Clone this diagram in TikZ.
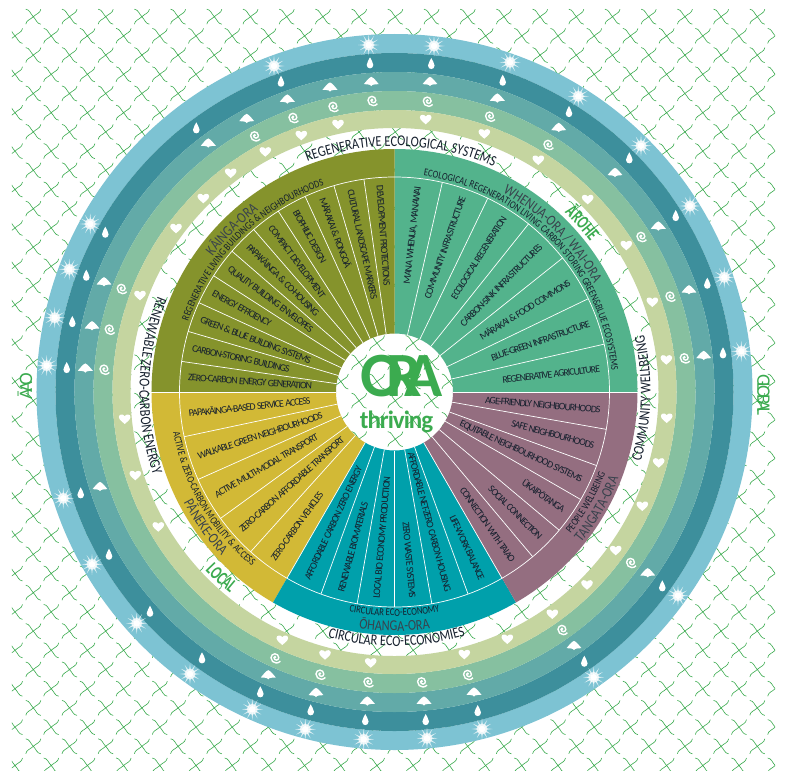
\documentclass[tikz,border=0pt]{standalone}
\usepackage{fontspec}
\usetikzlibrary{decorations.text}
\setmainfont{Carlito}
\newfontfamily\wheelfont[LetterSpace=-10]{Carlito}
\newfontfamily\arcfont[FakeStretch=0.82]{Carlito}
\newfontfamily\greenfont[LetterSpace=-21]{Carlito}
\newfontfamily\greenarcfont[FakeStretch=0.68]{Carlito Bold}
\newfontfamily\orafont[LetterSpace=-27]{Carlito Bold}
\newfontfamily\thrivefont[LetterSpace=-4]{Carlito Bold}

\definecolor{ringa}{HTML}{7DC3D3}
\definecolor{ringb}{HTML}{3D8F9C}
\definecolor{ringc}{HTML}{62AAA8}
\definecolor{ringd}{HTML}{86C0A0}
\definecolor{ringe}{HTML}{C5D5A0}
\definecolor{whenuacol}{HTML}{53B38C}
\definecolor{tangatacol}{HTML}{946E80}
\definecolor{ohangacol}{HTML}{00A0AB}
\definecolor{panekecol}{HTML}{D2B936}
\definecolor{kaingacol}{HTML}{85932C}
\definecolor{inkdark}{HTML}{16202E}
\definecolor{oragreen}{HTML}{3BAB4F}

\newcommand{\smalltxt}{\wheelfont\fontsize{10}{10}\selectfont\color{inkdark}}
\newcommand{\smallarc}{\arcfont\fontsize{10.5}{10.5}\selectfont\color{inkdark}}
\newcommand{\ringtxt}{\arcfont\fontsize{15}{15}\selectfont\color{inkdark}}
\newcommand{\oratxt}{\arcfont\fontsize{15}{15}\selectfont\color{inkdark!85}}
\newcommand{\placetxt}{\greenfont\fontsize{19}{19}\selectfont\color{oragreen}}
\newcommand{\placearc}{\greenarcfont\fontsize{19}{19}\selectfont\color{oragreen}}
% text on an arc: font, radius, start angle, end angle, text
\newcommand{\arclabel}[5]{\path[decorate,decoration={text along path,text align=center,
  text={|#1|#5}}] (#3:#2) arc[start angle=#3,end angle=#4,radius=#2];}

\tikzset{
  crossline/.style={draw=oragreen,line width=0.6pt},
  spoke/.style={draw=white,line width=0.7pt},
  radright/.style={font=\smalltxt,inner sep=0pt,anchor=east,text height=6.5pt,text depth=0pt},
  radleft/.style={font=\smalltxt,inner sep=0pt,anchor=west,text height=6.5pt,text depth=0pt},
  sunicon/.pic={
    \fill[white,opacity=0.75] \foreach \a in {0,30,...,330} {(\a:10.5) -- (\a+14:3.5) -- (\a-14:3.5) -- cycle};
    \fill[white,opacity=0.7] (0,0) circle (5.5);
    \fill[white] (0,0) circle (3.4);
  },
  dropicon/.pic={
    \fill[white] (0,6) .. controls (0.6,3.5) and (3.3,1.6) .. (3.3,-1.6)
      .. controls (3.3,-6.2) and (-3.3,-6.2) .. (-3.3,-1.6)
      .. controls (-3.3,1.6) and (-0.6,3.5) .. (0,6) -- cycle;
  },
  shellicon/.pic={
    \fill[white,scale=0.88] (0,5.5) .. controls (3,4.5) and (6,0) .. (8.5,-2.8) -- (4.5,-3) -- (1.4,-3.6)
      -- (0,-5) -- (-1.4,-3.6) -- (-4.5,-3) -- (-8.5,-2.8) .. controls (-6,0) and (-3,4.5) .. (0,5.5) -- cycle;
  },
  koruicon/.pic={
    \draw[white,line width=1.4pt] (0.3,0) arc[start angle=0,end angle=180,radius=1]
      arc[start angle=180,end angle=360,radius=2.4]
      arc[start angle=0,end angle=180,radius=3.9]
      arc[start angle=180,end angle=320,radius=5.3];
  },
  hearticon/.pic={
    \fill[white] (0,-5) .. controls (-2,-3) and (-5.8,-0.8) .. (-5.8,2) .. controls (-5.8,5) and (-1.5,5.4) .. (0,2.8)
      .. controls (1.5,5.4) and (5.8,5) .. (5.8,2) .. controls (5.8,-0.8) and (2,-3) .. (0,-5) -- cycle;
  },
}

\begin{document}
\begin{tikzpicture}[x=1pt,y=1pt]
\useasboundingbox (-394.5,-380) rectangle (399.5,392);
\fill[white] (-394.5,-380) rectangle (399.5,392);

% lattice behind the wheel
\begin{scope}
\clip (-382.5,-378) rectangle (380.5,383);
\foreach \row in {0,...,39}
  \foreach \col in {0,...,21} {
    \pgfmathsetmacro{\px}{(isodd(\row) ? 15 : 33.3)+36.2*\col-394.5}
    \pgfmathsetmacro{\py}{392-16.7-19.2*\row}
    \draw[crossline,shift={(\px,\py)}]
      (-7.5,-7.5) .. controls (-7,-3.5) and (-3,-3) .. (0,0) .. controls (3,3) and (7,3.5) .. (7.5,7.5)
      (-7.5,7.5) .. controls (-3.5,7) and (-3,3) .. (0,0) .. controls (3,-3) and (3.5,-7) .. (7.5,-7.5);
  }
\end{scope}

% rings
\foreach \col/\ro/\ri in {ringa/358/339,ringb/339/320,ringc/320/301,ringd/301/282,ringe/282/264}
  \fill[\col,even odd rule] (0,0) circle (\ro) circle (\ri);

% icons on the rings, at picture positions
\foreach \px/\py in {368.7/45,274/66,90.3/224,69.3/269.3,54.7/317.7,46.7/365.7,63.3/498.3,92/564.3,136.7/623.3,190/674,252.3/709.3,305.3/729.3,363.7/739.3,678/595.7,593.7/677.3,482/729,427/738.3,434/46,510/62.3,578.3/96.3,641/145.7,690/206,724.3/277.3,741.3/351.3}
  \pic at ({\px-394.5},{392-\py}) {sunicon};
\foreach \px/\py in {370/63.3,281/81.7,196.3/128.3,105.3/232.7,86.3/275.7,72.3/322,66.7/368,80.7/493.3,109/554.7,150/611.7,202/658.3,260.3/692.3,310.7/710.3,365.3/720,662.3/586.3,584.3/661.7,477.7/711,425.7/720,431.3/64,502.7/80.7,569/112,629.3/158.3,675.7/216,707.3/283.7,723/353.3}
  \pic at ({\px-394.5},{392-\py}) {dropicon};
\foreach \px/\py in {371.3/81.7,330/87.3,287.3/99.3,246.7/118.7,208.3/143.3,104/282,92/326,85.3/368.3,100/486.7,268.3/675,316/692.7,367.3/701.3,647.7/573,574/645.7,474/692.3,424/701.3,430/81.7,497.3/98.3,558.7/127.7,615/172.7,658.3/226.3,689/290,703.7/355.7}
  \pic at ({\px-394.5},{392-\py}) {shellicon};
\foreach \px/\py in {372.7/100.3,333.7/106.3,293.7/117.3,255.3/135.7,122/288.3,110/329,104.7/369,275.7/657.7,320.7/674,368.7/681.7,631.3/562.3,562.7/629.3,468.3/674.3,422.3/681.7,428/101,490.3/116,548.7/144.3,641.7/236.3,670.7/296,685/357.7}
  \pic at ({\px-394.5},{392-\py}) {koruicon};
\foreach \px/\py in {338/124.3,301.3/135.3,265.3/151.7,230.7/173,203.3/198.3,176/228.3,140/295.3,124.7/419,135.3/475.3,158.3/526.7,282.3/640,325/654.7,370.7/662.7,666.7/418,658.7/462.7,642.3/506,615.7/550.3,587/584.7,552.3/614,507.3/639,464.3/654.3,425.7/119.3,484.3/133.7,538.3/160,587.7/199.3,626.3/245.3,652.3/302,666.3/359.7}
  \pic at ({\px-394.5},{392-\py}) {hearticon};

% sectors
\foreach \col/\aa/\bb in {whenuacol/0/90,kaingacol/90/180,panekecol/180/240,ohangacol/240/300,tangatacol/300/360}
  \fill[\col] (\aa:243) arc[start angle=\aa,end angle=\bb,radius=243] -- (\bb:58.5)
    arc[start angle=\bb,end angle=\aa,radius=58.5] -- cycle;

\draw[spoke] (0,0) circle (215);
\draw[spoke] (0:58.5) -- (0:243);
\draw[spoke] (180:58.5) -- (180:243);
\draw[spoke] (240:58.5) -- (240:215);
\draw[spoke] (300:58.5) -- (300:215);
\foreach \i in {1,...,6} \draw[spoke] ({90-\i*90/7}:58.5) -- ({90-\i*90/7}:215);
\foreach \i in {1,...,10} \draw[spoke] ({90+\i*90/11}:58.5) -- ({90+\i*90/11}:215);
\foreach \i in {1,...,4} \draw[spoke] ({180+\i*12}:58.5) -- ({180+\i*12}:215);
\foreach \i in {1,...,5} \draw[spoke] ({240+\i*10}:58.5) -- ({240+\i*10}:215);
\foreach \i in {1,...,5} \draw[spoke] ({300+\i*10}:58.5) -- ({300+\i*10}:215);

% labels in the cells
\foreach \i/\lbl in {1/{MANA WHENUA, MANAWAI},2/COMMUNITY INFRASTRUCTURE,3/ECOLOGICAL REGENERATION,
    4/CARBON-SINK INFRASTRUCTURES,5/MĀRAKAI {\&} FOOD COMMONS,6/BLUE-GREEN INFRASTRUCTURE,7/REGENERATIVE AGRICULTURE} {
  \pgfmathsetmacro{\ang}{90-(\i-0.5)*90/7}
  \node[radright,rotate=\ang] (whenua\i) at (\ang:207) {\lbl};
}
\foreach \i/\lbl in {1/DEVELOPMENT PROTECTIONS,2/CULTURAL LANDSCAPE MARKERS,3/MĀRAKAI {\&} RONGOĀ,4/BIOPHILIC DESIGN,
    5/COMPACT DEVELOPMENT,6/PAPAKĀINGA {\&} CO-HOUSING,7/QUALITY BUILDING ENVELOPES,8/ENERGY EFFICIENCY,
    9/GREEN {\&} BLUE BUILDING SYSTEMS,10/CARBON-STORING BUILDINGS,11/ZERO-CARBON ENERGY GENERATION} {
  \pgfmathsetmacro{\ang}{90+(\i-0.5)*90/11}
  \node[radleft,rotate=\ang+180] (kainga\i) at (\ang:207) {\lbl};
}
\foreach \i/\lbl in {1/PAPAKĀINGA-BASED SERVICE ACCESS,2/WALKABLE GREEN NEIGHBOURHOODS,3/ACTIVE MULTI-MODAL TRANSPORT,
    4/ZERO-CARBON AFFORDABLE TRANSPORT,5/ZERO-CARBON VEHICLES} {
  \pgfmathsetmacro{\ang}{180+(\i-0.5)*12}
  \node[radleft,rotate=\ang+180] (paneke\i) at (\ang:207) {\lbl};
}
\foreach \i/\lbl in {1/AFFORDABLE CARBON ZERO ENERGY,2/RENEWABLE BIOMATERIALS,3/LOCAL BIO ECONOMY PRODUCTION} {
  \pgfmathsetmacro{\ang}{240+(\i-0.5)*10}
  \node[radleft,rotate=\ang+180] (ohanga\i) at (\ang:207) {\lbl};
}
\foreach \i/\lbl in {4/ZERO WASTE SYSTEMS,5/AFFORDABLE NET-ZERO CARBON HOUSING,6/LIFE-WORK BALANCE} {
  \pgfmathsetmacro{\ang}{240+(\i-0.5)*10}
  \node[radright,rotate=\ang] (ohanga\i) at (\ang:207) {\lbl};
}
\foreach \i/\lbl in {1/CONNECTION WITH TAIAO,2/SOCIAL CONNECTION,3/ŪKAIPŌTANGA,4/EQUITABLE NEIGHBOURHOOD SYSTEMS,
    5/SAFE NEIGHBOURHOODS,6/AGE-FRIENDLY NEIGHBOURHOODS} {
  \pgfmathsetmacro{\ang}{300+(\i-0.5)*10}
  \node[radright,rotate=\ang] (tangata\i) at (\ang:207) {\lbl};
}

% labels on the arcs
\arclabel{\ringtxt}{246}{128}{49}{REGENERATIVE ECOLOGICAL SYSTEMS}
\arclabel{\ringtxt}{256}{-40}{37}{COMMUNITY WELLBEING}
\arclabel{\ringtxt}{254}{-130}{-49}{CIRCULAR ECO-ECONOMIES}
\arclabel{\ringtxt}{255}{135}{222}{RENEWABLE ZERO-CARBON ENERGY}
\arclabel{\smallarc}{218}{90}{-2}{ECOLOGICAL REGENERATION LIVING CARBON STORING GREEN{\&}BLUE ECOSYSTEMS}
\arclabel{\oratxt}{227}{80}{10}{WHENUA-ORA / WAI-ORA}
\arclabel{\smallarc}{218}{175}{95}{REGENERATIVE LIVING BUILDINGS {\&} NEIGHBOURHOODS}
\arclabel{\oratxt}{227}{165}{105}{KĀINGA-ORA}
\arclabel{\smallarc}{225}{180}{241}{ACTIVE {\&} ZERO-CARBON MOBILITY {\&} ACCESS}
\arclabel{\oratxt}{238}{186}{245}{PĀNEKE-ORA}
\arclabel{\smallarc}{224}{-120}{-60}{CIRCULAR ECO-ECONOMY}
\arclabel{\oratxt}{239}{-120}{-60}{ŌHANGA-ORA}
\arclabel{\smallarc}{226}{-55}{-5}{PEOPLE WELLBEING}
\arclabel{\oratxt}{240}{-55}{-5}{TANGATA-ORA}
\arclabel{\placearc}{247}{65}{19}{ĀROHE}
\arclabel{\placearc}{260}{205}{249}{LOCAL}

\node[font=\placetxt,rotate=-90] (globalname) at (369,-3) {GLOBAL};
\node[font=\placetxt,rotate=90] (aoname) at (-369.5,6) {ĀAO};

% centre
\node[font=\orafont\fontsize{63}{63}\selectfont,text=oragreen,inner sep=0pt] (oraname) at (7,16) {ORA};
\node[font=\thrivefont\fontsize{25}{25}\selectfont,text=oragreen,inner sep=0pt] (thrivename) at (2,-29.5) {thriving};
\end{tikzpicture}
\end{document}
